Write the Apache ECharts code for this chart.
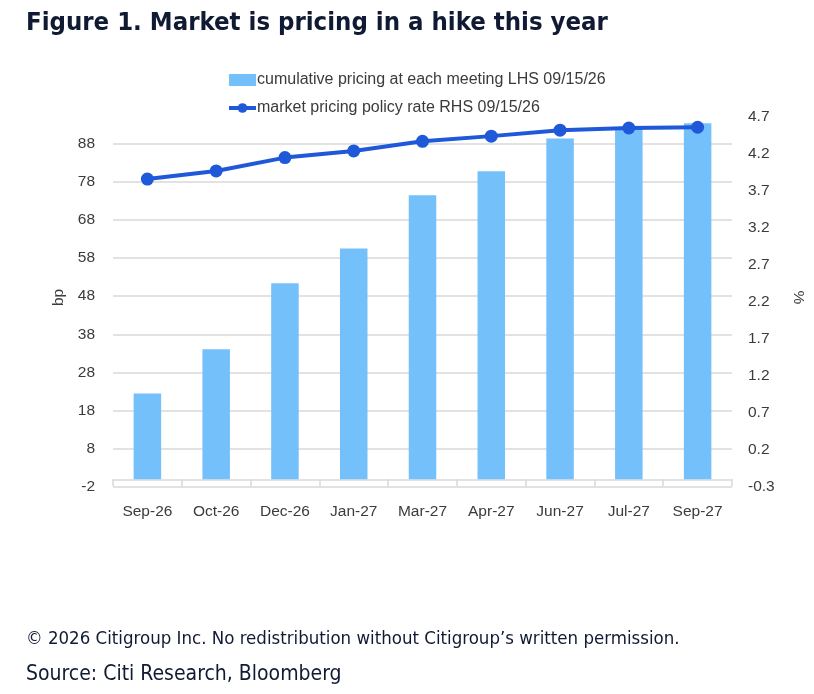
<!DOCTYPE html>
<html>
<head>
<meta charset="utf-8">
<script src="https://cdn.jsdelivr.net/npm/echarts@6/dist/echarts.min.js"></script>
<style>
  html, body { margin: 0; padding: 0; background: #fff; }
  #main { width: 814px; height: 694px; }
</style>
</head>
<body>
<div id="main"></div>
<script>
// data
var meetings = ['Sep-26', 'Oct-26', 'Dec-26', 'Jan-27', 'Mar-27', 'Apr-27', 'Jun-27', 'Jul-27', 'Sep-27'];
var cumulativeBp = [22.5, 34.1, 51.4, 60.5, 74.4, 80.7, 89.3, 92.0, 93.3];
var policyRate = [3.86, 3.97, 4.15, 4.24, 4.37, 4.44, 4.52, 4.55, 4.56];

var axisFont = "'Liberation Sans', Arial, sans-serif";
var headFont = "'DejaVu Sans Condensed', sans-serif";
var labelColor = '#3b3b3b';
var gridColor = '#d9d9d9';

var chart = echarts.init(document.getElementById('main'));

var option = {
    backgroundColor: '#fff',
    animation: false,
    title: [
        {
            text: 'Figure 1. Market is pricing in a hike this year',
            left: 21, top: 5,
            textStyle: { fontFamily: headFont, fontWeight: 'bold', fontSize: 25.5, color: '#101a33' }
        },
        {
            text: '\u00a9 2026 Citigroup Inc. No redistribution without Citigroup\u2019s written permission.',
            left: 21, top: 625,
            textStyle: { fontFamily: headFont, fontWeight: 'normal', fontSize: 18.5, color: '#101a33' }
        },
        {
            text: 'Source: Citi Research, Bloomberg',
            left: 21, top: 659,
            textStyle: { fontFamily: headFont, fontWeight: 'normal', fontSize: 21, color: '#101a33' }
        }
    ],
    legend: {
        orient: 'vertical',
        left: 222, top: 67,
        itemGap: 12,
        itemWidth: 27, itemHeight: 12,
        textStyle: { fontFamily: axisFont, fontSize: 16, color: labelColor, padding: [0, 0, 0, -4] },
        data: [
            { name: 'cumulative pricing at each meeting LHS 09/15/26', icon: 'rect' },
            { name: 'market pricing policy rate RHS 09/15/26', lineStyle: { width: 4 } }
        ]
    },
    grid: { left: 113, right: 80, top: 108, bottom: 207 },
    xAxis: {
        type: 'category',
        data: meetings,
        axisLine: { onZero: true, lineStyle: { color: gridColor, width: 1.5 } },
        axisTick: { show: true, length: 7, lineStyle: { color: gridColor, width: 1.5 } },
        axisLabel: { interval: 0, margin: 17, fontFamily: axisFont, fontSize: 15.5, color: labelColor }
    },
    yAxis: [
        {
            type: 'value',
            min: -2, max: 97.27, interval: 10,
            name: 'bp', nameLocation: 'middle', nameGap: 40, nameRotate: 90,
            nameTextStyle: { fontFamily: axisFont, fontSize: 15.5, color: labelColor },
            axisLine: { show: false }, axisTick: { show: false },
            axisLabel: { margin: 18, fontFamily: axisFont, fontSize: 15.5, color: labelColor, showMaxLabel: false },
            splitLine: { showMaxLine: false, lineStyle: { color: gridColor, width: 1.5 } }
        },
        {
            type: 'value',
            min: -0.3, max: 4.82, interval: 0.5,
            name: '%', nameLocation: 'middle', nameGap: 58, nameRotate: -90,
            nameTextStyle: { fontFamily: axisFont, fontSize: 15.5, color: labelColor },
            axisLine: { show: false }, axisTick: { show: false },
            axisLabel: {
                margin: 16, fontFamily: axisFont, fontSize: 15.5, color: labelColor, showMaxLabel: false,
                formatter: function (v) { return v.toFixed(1); }
            },
            splitLine: { show: false }
        }
    ],
    series: [
        {
            name: 'cumulative pricing at each meeting LHS 09/15/26',
            type: 'bar',
            yAxisIndex: 0,
            barWidth: '40%',
            itemStyle: { color: '#74c0fb' },
            data: cumulativeBp
        },
        {
            name: 'market pricing policy rate RHS 09/15/26',
            type: 'line',
            yAxisIndex: 1,
            symbol: 'circle', symbolSize: 13,
            lineStyle: { color: '#1f58d8', width: 4 },
            itemStyle: { color: '#1f58d8' },
            data: policyRate
        }
    ]
};

chart.setOption(option);
</script>
</body>
</html>
